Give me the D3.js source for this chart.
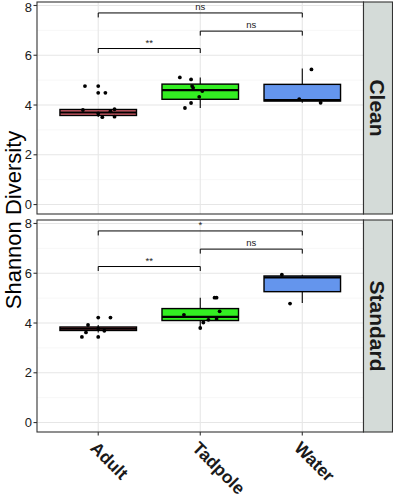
<!DOCTYPE html>
<html>
<head>
<meta charset="utf-8">
<script src="https://cdn.jsdelivr.net/npm/d3@7"></script>
<style>
  body { margin: 0; background: #fff; }
  text { font-family: "Liberation Sans", Arial, sans-serif; }
</style>
</head>
<body>
<div id="vis"></div>
<script>
// groups and facets
var groups = ["Adult", "Tadpole", "Water"];
var panels = ["Clean", "Standard"];

// box stats per group: [whiskerLow, q1, median, q3, whiskerHigh]
var cleanBoxes = [[3.52, 3.58, 3.70, 3.82, 3.84], [3.88, 4.23, 4.60, 4.84, 5.11], [4.09, 4.16, 4.20, 4.83, 5.47]];
var standardBoxes = [[3.62, 3.70, 3.77, 3.84, 3.92], [3.80, 4.10, 4.25, 4.58, 5.02], [4.80, 5.26, 5.83, 5.89, 5.94]];

// jittered samples: [group index, shannon value, jitter (in category steps)]
var cleanPoints = [
  [0, 4.76, -0.13], [0, 4.76, 0], [0, 4.49, 0], [0, 4.49, 0.07], [0, 3.80, -0.15], [0, 3.83, 0.16],
  [0, 3.51, 0.04], [0, 3.53, 0.16], [0, 3.66, 0], [0, 3.75, 0.12],
  [1, 5.11, -0.20], [1, 5.03, -0.09], [1, 3.88, -0.15], [1, 4.08, -0.09], [1, 4.69, -0.07],
  [1, 4.56, 0.02], [1, 4.33, -0.01], [1, 4.76, -0.08],
  [2, 5.43, 0.09], [2, 4.09, 0.18], [2, 4.24, -0.03]
];
var standardPoints = [
  [0, 4.22, 0], [0, 4.22, 0.12], [0, 3.44, -0.16], [0, 3.44, 0], [0, 3.62, -0.12], [0, 3.92, -0.10],
  [0, 3.69, 0.06], [0, 3.78, 0],
  [1, 5.02, 0.14], [1, 5.02, 0.16], [1, 4.47, 0.19], [1, 4.13, 0.08], [1, 4.02, 0.03], [1, 3.80, 0],
  [1, 4.16, 0.16], [1, 4.33, -0.16],
  [2, 5.94, -0.20], [2, 4.78, -0.12]
];

// significance brackets
var comparisons = [[0, 1], [1, 2], [0, 2]];
var bracketHeights = [6.27, 6.97, 7.70];
var cleanSig = ["**", "ns", "ns"];
var standardSig = ["**", "ns", "*"];

var yTicks = [0, 2, 4, 6, 8];
var yMinor = [1, 3, 5, 7];

var boxFills = ["#d9606c", "#33ee22", "#6495ed"];

var W = 393, H = 500;
var left = 37, right = 363.5, stripW = 29;
var panelTops = [2, 220];
var panelH = 212;

var svg = d3.select("#vis").append("svg")
  .attr("width", W)
  .attr("height", H);

var x = d3.scalePoint().domain(groups).range([left, right]).padding(0.6);
var step = x.step();
var boxW = step * 0.75;

var panelData = [
  {name: panels[0], boxes: cleanBoxes, points: cleanPoints, sig: cleanSig},
  {name: panels[1], boxes: standardBoxes, points: standardPoints, sig: standardSig}
];

panelData.forEach(function(p, pi) {
  var top = panelTops[pi];
  var y = d3.scaleLinear().domain([-0.38, 8.14]).range([top + panelH, top]);

  var clipId = "clip" + pi;
  svg.append("clipPath").attr("id", clipId)
    .append("rect")
    .attr("x", left).attr("y", top)
    .attr("width", right - left).attr("height", panelH);

  var g = svg.append("g").attr("clip-path", "url(#" + clipId + ")");

  g.append("rect")
    .attr("x", left).attr("y", top)
    .attr("width", right - left).attr("height", panelH)
    .attr("fill", "#fff");

  // grid
  g.selectAll(".minor").data(yMinor).enter().append("line")
    .attr("x1", left).attr("x2", right)
    .attr("y1", function(d) { return y(d); }).attr("y2", function(d) { return y(d); })
    .attr("stroke", "#f2f2f2").attr("stroke-width", 0.6);
  g.selectAll(".major").data(yTicks).enter().append("line")
    .attr("x1", left).attr("x2", right)
    .attr("y1", function(d) { return y(d); }).attr("y2", function(d) { return y(d); })
    .attr("stroke", "#e6e6e6").attr("stroke-width", 1.1);
  g.selectAll(".vgrid").data(groups).enter().append("line")
    .attr("x1", function(d) { return x(d); }).attr("x2", function(d) { return x(d); })
    .attr("y1", top).attr("y2", top + panelH)
    .attr("stroke", "#e6e6e6").attr("stroke-width", 1.1);

  // whiskers
  g.selectAll(".whisker").data(p.boxes).enter().append("line")
    .attr("x1", function(d, i) { return x(groups[i]); })
    .attr("x2", function(d, i) { return x(groups[i]); })
    .attr("y1", function(d) { return y(d[0]); })
    .attr("y2", function(d) { return y(d[4]); })
    .attr("stroke", "#000").attr("stroke-width", 1.1);

  // boxes
  g.selectAll(".box").data(p.boxes).enter().append("rect")
    .attr("x", function(d, i) { return x(groups[i]) - boxW / 2; })
    .attr("y", function(d) { return y(d[3]); })
    .attr("width", boxW)
    .attr("height", function(d) { return y(d[1]) - y(d[3]); })
    .attr("fill", function(d, i) { return boxFills[i]; })
    .attr("stroke", "#000").attr("stroke-width", 1.4);

  g.selectAll(".median").data(p.boxes).enter().append("line")
    .attr("x1", function(d, i) { return x(groups[i]) - boxW / 2; })
    .attr("x2", function(d, i) { return x(groups[i]) + boxW / 2; })
    .attr("y1", function(d) { return y(d[2]); })
    .attr("y2", function(d) { return y(d[2]); })
    .attr("stroke", "#000").attr("stroke-width", 2.2);

  // points
  g.selectAll(".pt").data(p.points).enter().append("circle")
    .attr("cx", function(d) { return x(groups[d[0]]) + d[2] * step; })
    .attr("cy", function(d) { return y(d[1]); })
    .attr("r", 1.9)
    .attr("fill", "#000");

  // brackets
  comparisons.forEach(function(c, ci) {
    var x1 = x(groups[c[0]]), x2 = x(groups[c[1]]);
    var yy = y(bracketHeights[ci]);
    g.append("path")
      .attr("d", "M" + x1 + "," + (yy + 4.5) + "V" + yy + "H" + x2 + "V" + (yy + 4.5))
      .attr("fill", "none").attr("stroke", "#000").attr("stroke-width", 1);
    g.append("text")
      .attr("x", (x1 + x2) / 2)
      .attr("y", yy - 3)
      .attr("text-anchor", "middle")
      .attr("font-size", "9.5px")
      .attr("fill", "#222")
      .text(p.sig[ci]);
  });

  // panel border
  svg.append("rect")
    .attr("x", left).attr("y", top)
    .attr("width", right - left).attr("height", panelH)
    .attr("fill", "none").attr("stroke", "#333").attr("stroke-width", 1.1);

  // y axis ticks + labels
  svg.selectAll(".yt" + pi).data(yTicks).enter().append("line")
    .attr("x1", left - 3.5).attr("x2", left)
    .attr("y1", function(d) { return y(d); }).attr("y2", function(d) { return y(d); })
    .attr("stroke", "#333").attr("stroke-width", 1.1);
  svg.selectAll(".yl" + pi).data(yTicks).enter().append("text")
    .attr("x", left - 5)
    .attr("y", function(d) { return Math.max(y(d), 7); })
    .attr("dy", "0.36em")
    .attr("text-anchor", "end")
    .attr("font-size", "13px")
    .attr("fill", "#1a1a1a")
    .text(function(d) { return d; });

  // facet strip
  svg.append("rect")
    .attr("x", right).attr("y", top)
    .attr("width", stripW).attr("height", panelH)
    .attr("fill", "#d4dbd8").attr("stroke", "#333").attr("stroke-width", 1.1);
  svg.append("text")
    .attr("transform", "translate(" + (right + stripW / 2) + "," + (top + panelH / 2) + ") rotate(90)")
    .attr("text-anchor", "middle")
    .attr("dy", "0.36em")
    .attr("font-size", "21px")
    .attr("font-weight", "bold")
    .attr("fill", "#1a1a1a")
    .text(p.name);
});

// x axis on the bottom panel
var bottom = panelTops[1] + panelH;
svg.selectAll(".xt").data(groups).enter().append("line")
  .attr("x1", function(d) { return x(d); }).attr("x2", function(d) { return x(d); })
  .attr("y1", bottom).attr("y2", bottom + 3.5)
  .attr("stroke", "#333").attr("stroke-width", 1.1);
svg.selectAll(".xl").data(groups).enter().append("text")
  .attr("transform", function(d) { return "translate(" + (x(d) - 9) + "," + (bottom + 17) + ") rotate(45)"; })
  .attr("font-size", "17.5px")
  .attr("font-weight", "bold")
  .attr("fill", "#1a1a1a")
  .text(function(d) { return d; });

// y axis title
svg.append("text")
  .attr("transform", "translate(20.5," + ((panelTops[0] + bottom) / 2 + 3) + ") rotate(-90)")
  .attr("text-anchor", "middle")
  .attr("font-size", "22px")
  .attr("fill", "#000")
  .text("Shannon Diversity");
</script>
</body>
</html>
